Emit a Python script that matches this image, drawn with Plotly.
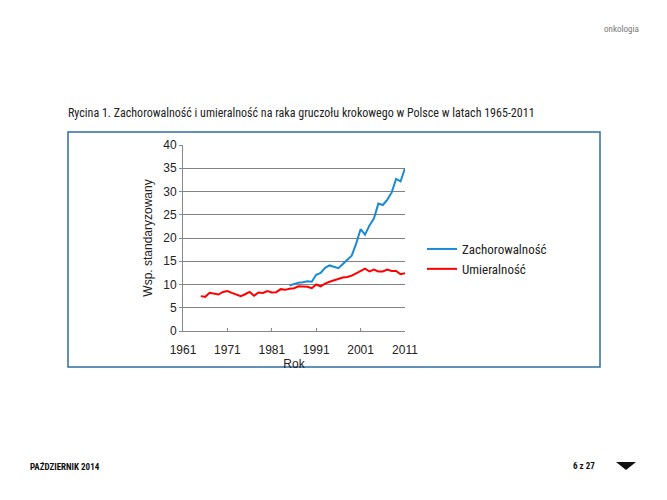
import plotly.graph_objects as go

years_mort = list(range(1965, 2012))
mortality = [7.5, 7.35, 8.2, 8.05, 7.85, 8.4, 8.6, 8.2, 7.85, 7.5,
             7.9, 8.4, 7.6, 8.3, 8.2, 8.6, 8.3, 8.35, 9.0, 8.85,
             9.1, 9.2, 9.6, 9.6, 9.5, 9.2, 10.0, 9.6, 10.2, 10.6,
             10.9, 11.2, 11.5, 11.6, 11.9, 12.4, 12.9, 13.4, 12.8, 13.2,
             12.8, 12.8, 13.2, 12.9, 12.9, 12.2, 12.4]

years_inc = list(range(1985, 2012))
incidence = [9.8, 10.1, 10.4, 10.5, 10.7, 10.6, 12.1, 12.5, 13.6, 14.1,
             13.8, 13.5, 14.4, 15.2, 16.2, 18.8, 21.9, 20.7, 22.7, 24.2,
             27.4, 27.1, 28.2, 29.8, 32.7, 32.2, 35.0]

x_ticks = [1961, 1971, 1981, 1991, 2001, 2011]

# strona ma margines 8px, więc figura jest mniejsza i przesunięta
OFF = 8
W, H = 667 - 2 * OFF, 500 - 2 * OFF
L, R, T, B = 183 - OFF, 405 - OFF, 145 - OFF, 331 - OFF


def px(x):
    return (x - OFF - L) / (R - L)


def py(y):
    return (B - (y - OFF)) / (B - T)


font_narrow = "Liberation Sans Narrow, Roboto Condensed, Arial Narrow, sans-serif"
font_plain = "Liberation Sans, Arial, sans-serif"

fig = go.Figure()
fig.add_trace(go.Scatter(x=years_inc, y=incidence, mode="lines", name="Zachorowalność",
                         line=dict(color="#1a8ad4", width=2)))
fig.add_trace(go.Scatter(x=years_mort, y=mortality, mode="lines", name="Umieralność",
                         line=dict(color="#ff0000", width=2)))

fig.update_layout(
    width=W, height=H,
    margin=dict(l=L, r=W - R, t=T, b=H - B),
    paper_bgcolor="white", plot_bgcolor="white",
    showlegend=True,
    legend=dict(x=px(422), y=py(259), xanchor="left", yanchor="middle",
                font=dict(family=font_narrow, size=13, color="#222"),
                bgcolor="rgba(0,0,0,0)", tracegroupgap=0),
    font=dict(family=font_plain, color="#222"),
)
fig.update_xaxes(range=[1961, 2011], tickvals=x_ticks, showgrid=False,
                 showline=True, linecolor="#888", linewidth=1,
                 ticks="inside", ticklen=3, tickcolor="#888",
                 ticklabelstandoff=8,
                 tickfont=dict(size=12, family=font_plain),
                 title=dict(text="Rok", font=dict(size=12, family=font_plain), standoff=3),
                 zeroline=False, fixedrange=True)
fig.update_yaxes(range=[0, 40], dtick=5, showgrid=True, gridcolor="#828282", gridwidth=1,
                 showline=True, linecolor="#888", linewidth=1,
                 ticks="outside", ticklen=3, tickcolor="#888",
                 tickfont=dict(size=12, family=font_plain),
                 title=dict(text="Wsp. standaryzowany", font=dict(size=12, family=font_plain), standoff=8),
                 zeroline=False, fixedrange=True)

# ramka wokół ryciny
fig.add_shape(type="rect", xref="paper", yref="paper",
              x0=px(68), x1=px(600), y0=py(367), y1=py(132),
              line=dict(color="#2e6da4", width=1.5), layer="below")

fig.add_annotation(text="Rycina 1. Zachorowalność i umieralność na raka gruczołu krokowego w Polsce w latach 1965-2011",
                   xref="paper", yref="paper", x=px(66), y=py(113), xanchor="left", yanchor="middle",
                   showarrow=False, font=dict(family=font_narrow, size=12, color="#222"))
fig.add_annotation(text="onkologia", xref="paper", yref="paper", x=px(641), y=py(29),
                   xanchor="right", yanchor="middle", showarrow=False,
                   font=dict(family=font_narrow, size=9, color="#777"))
fig.add_annotation(text="<b>PAŹDZIERNIK 2014</b>", xref="paper", yref="paper", x=px(28), y=py(466),
                   xanchor="left", yanchor="middle", showarrow=False,
                   font=dict(family=font_narrow, size=9, color="#111"))
fig.add_annotation(text="<b>6 z 27</b>", xref="paper", yref="paper", x=px(597), y=py(466),
                   xanchor="right", yanchor="middle", showarrow=False,
                   font=dict(family=font_narrow, size=9, color="#111"))
fig.add_shape(type="path", xref="paper", yref="paper",
              path=f"M {px(616)} {py(462)} L {px(636)} {py(462)} L {px(626)} {py(470)} Z",
              fillcolor="#111", line=dict(color="#111", width=0))

fig.write_html("out.html")
